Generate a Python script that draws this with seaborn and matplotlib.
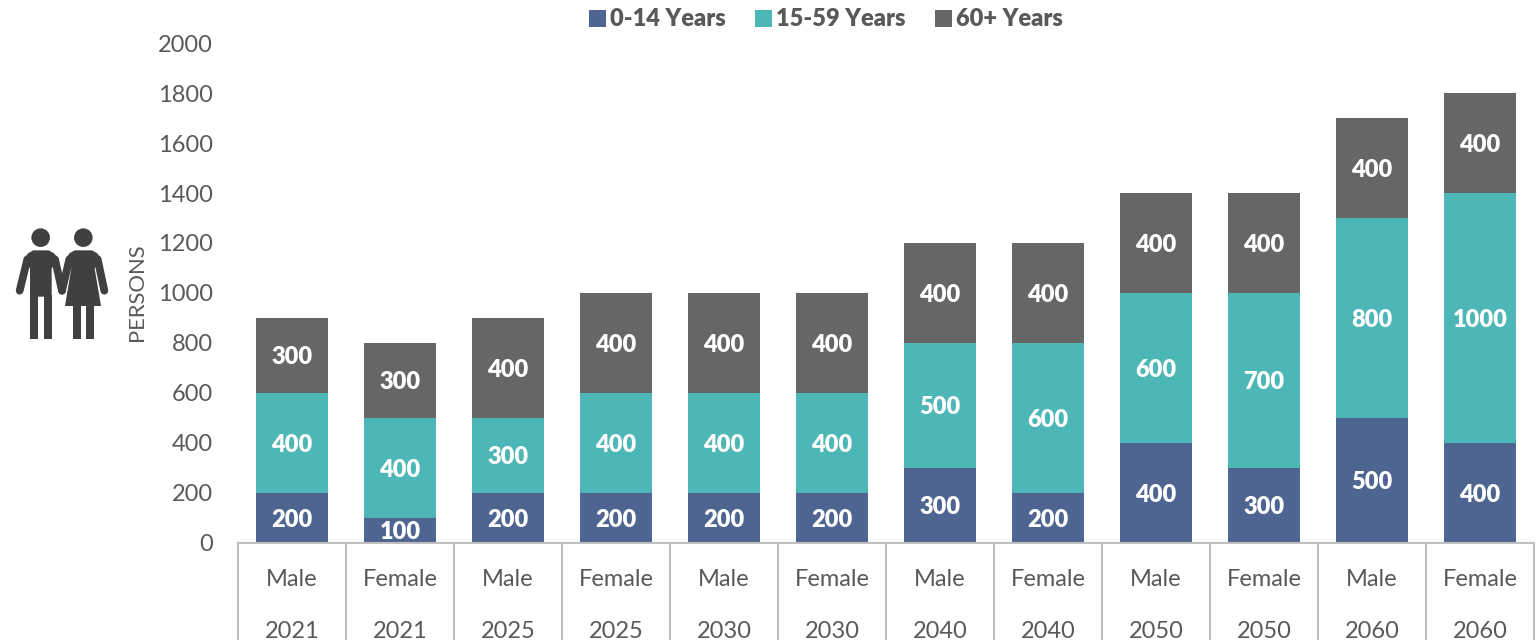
import matplotlib
matplotlib.use("Agg")
import matplotlib.pyplot as plt
from matplotlib.patches import Circle, Polygon, Rectangle
import numpy as np
import pandas as pd
import seaborn as sns

sexes = ["Male", "Female"] * 6
years = ["2021", "2021", "2025", "2025", "2030", "2030",
         "2040", "2040", "2050", "2050", "2060", "2060"]
young = [200, 100, 200, 200, 200, 200, 300, 200, 400, 300, 500, 400]
middle = [400, 400, 300, 400, 400, 400, 500, 600, 600, 700, 800, 1000]
old = [300, 300, 400, 400, 400, 400, 400, 400, 400, 400, 400, 400]
series_names = ["0-14 Years", "15-59 Years", "60+ Years"]
y_ticks = list(range(0, 2001, 200))

BLUE = "#4F6591"
TEAL = "#4DB6B6"
GREY = "#666666"
TEXT = "#595959"
ICON = "#404040"
LINE = "#BFBFBF"

sns.set_theme(style="white")
plt.rcParams["font.family"] = ["Lato", "DejaVu Sans"]

fig = plt.figure(figsize=(15.37, 6.4), dpi=100)
W, H = 1537, 640
ax = fig.add_axes([238 / W, 1 - 542.6 / H, 1296 / W, 499.4 / H])

# one row per category, the labels are unique so each gets its own slot
cats = [f"{s}\n{y}" for s, y in zip(sexes, years)]
df = pd.DataFrame({"cat": cats, "young": young, "middle": middle, "old": old})

bottom = np.zeros(len(df))
for col, name, color in zip(["young", "middle", "old"], series_names, [BLUE, TEAL, GREY]):
    sns.barplot(data=df, x="cat", y=col, order=cats, color=color, width=0.67,
                bottom=bottom, errorbar=None, saturation=1, label=name,
                linewidth=0, ax=ax)
    for i, v in enumerate(df[col]):
        ax.text(i, bottom[i] + v / 2, str(v), ha="center", va="center_baseline",
                color="white", fontsize=17, fontweight="heavy")
    bottom = bottom + df[col].to_numpy()

ax.set_xlim(-0.5, 11.5)
ax.set_ylim(0, 2000)
ax.set_yticks(y_ticks)
ax.set_xlabel("")
ax.set_ylabel("")
ax.tick_params(axis="y", length=0, pad=18, labelsize=17, labelcolor=TEXT)
ax.tick_params(axis="x", length=0, pad=19, labelsize=17, labelcolor=TEXT)
for label in ax.get_xticklabels():
    label.set_linespacing(2.82)
for side in ["top", "right", "left"]:
    ax.spines[side].set_visible(False)
ax.spines["bottom"].set_color(LINE)
ax.spines["bottom"].set_linewidth(1.5)

# category separators run down to the bottom of the picture
ax.vlines(np.arange(13) - 0.5, -400, 0, color=LINE, lw=1.5, clip_on=False)

fig.text(137 / W, 1 - 292 / H, "PERSONS", rotation=90, ha="center", va="center",
         color=TEXT, fontsize=15.8)

handles, labels = ax.get_legend_handles_labels()
ax.legend(handles, labels, loc="center", bbox_to_anchor=(826 / W, 1 - 19.5 / H),
          bbox_transform=fig.transFigure, ncol=3, frameon=False, handlelength=0.72,
          handleheight=0.72, handletextpad=0.15, columnspacing=1.27,
          prop={"size": 17, "weight": "heavy"}, labelcolor=TEXT)

# people icon, drawn in pixel coordinates on a full-figure overlay
icon = fig.add_axes([0, 0, 1, 1], zorder=-1)
icon.set_xlim(0, W)
icon.set_ylim(H, 0)
icon.axis("off")


def z(x, y):
    return (x / 3, 200 + y / 3)


def limb(a, b):
    icon.plot(*zip(z(*a), z(*b)), color=ICON, lw=5.6, solid_capstyle="round")


for cx in [122, 250]:
    icon.add_patch(Circle(z(cx, 113), 9.3, color=ICON, lw=0))

icon.add_patch(Polygon([z(72, 178), z(84, 160), z(100, 151), z(146, 151), z(162, 160),
                        z(176, 178), z(155, 205), z(155, 290), z(90, 290), z(90, 205)],
                       color=ICON, lw=0))
for x0 in [90, 132]:
    icon.add_patch(Rectangle(z(x0, 285), 23 / 3, 133 / 3, color=ICON, lw=0))
limb((82, 178), (59, 272))
limb((165, 178), (186, 272))

icon.add_patch(Polygon([z(198, 178), z(208, 160), z(224, 151), z(276, 151), z(292, 160),
                        z(304, 178), z(284, 205), z(303, 318), z(195, 318), z(214, 205)],
                       color=ICON, lw=0))
for x0 in [218, 258]:
    icon.add_patch(Rectangle(z(x0, 315), 24 / 3, 103 / 3, color=ICON, lw=0))
limb((208, 178), (186, 272))
limb((293, 178), (313, 272))

fig.savefig("out.png", dpi=100)
